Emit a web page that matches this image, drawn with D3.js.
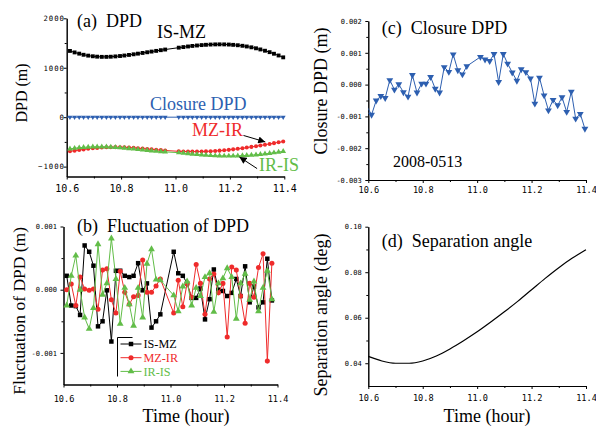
<!doctype html>
<html lang="en">
<head>
  <meta charset="utf-8" />
  <title>DPD 2008-0513</title>
  <script src="https://d3js.org/d3.v7.min.js"></script>
  <style>
    body { margin: 0; background: #fff; }
    text { font-family: "Liberation Serif", "Times New Roman", serif; }
    .tick text { font-family: "DejaVu Sans Mono", monospace; }
  </style>
</head>
<body>
<div id="chart"></div>
<script>
  // sample times (hour), one per minute, two samples missing just before 11.0
  const time = [10.612, 10.629, 10.646, 10.662, 10.679, 10.696, 10.712, 10.729, 10.746, 10.762,
    10.779, 10.796, 10.812, 10.829, 10.846, 10.862, 10.879, 10.896, 10.912, 10.929, 10.946, 10.962,
    11.012, 11.029, 11.046, 11.062, 11.079, 11.096, 11.112, 11.129, 11.146, 11.162, 11.179, 11.196,
    11.212, 11.229, 11.246, 11.262, 11.279, 11.296, 11.312, 11.329, 11.346, 11.362, 11.379, 11.396];

  // (a) DPD (m)
  const isMz = [1340, 1310, 1285, 1262, 1245, 1232, 1224, 1220, 1220, 1223, 1229, 1237, 1247, 1259,
    1272, 1285, 1299, 1313, 1327, 1341, 1355, 1368, 1406, 1418, 1430, 1441, 1450, 1458, 1464, 1469,
    1472, 1473, 1472, 1469, 1463, 1455, 1444, 1430, 1413, 1393, 1370, 1344, 1315, 1283, 1248, 1210];
  const mzIr = [-690, -678, -665, -652, -640, -630, -622, -615, -610, -607, -606, -607, -610, -614,
    -620, -627, -635, -643, -651, -659, -667, -674, -690, -693, -695, -696, -696, -695, -692, -688,
    -683, -677, -670, -661, -651, -640, -628, -615, -601, -587, -572, -557, -541, -525, -509, -493];
  const irIs = [-640, -628, -618, -610, -604, -600, -598, -598, -600, -604, -610, -617, -625, -634,
    -643, -652, -662, -671, -680, -688, -695, -702, -718, -727, -736, -745, -753, -761, -768, -774,
    -779, -782, -784, -785, -784, -782, -778, -773, -767, -760, -751, -741, -730, -718, -705, -690];

  // (c) closure DPD (m); first sample sits just left of 10.6
  const closureTime = [10.596, 10.612, 10.629, 10.646, 10.662, 10.679, 10.696, 10.712, 10.729, 10.746,
    10.762, 10.779, 10.796, 10.812, 10.829, 10.846, 10.862, 10.879, 10.896, 10.912, 10.929, 10.946,
    10.962, 11.012, 11.029, 11.046, 11.062, 11.079, 11.096, 11.112, 11.129, 11.146, 11.162, 11.179,
    11.196, 11.212, 11.229, 11.246, 11.262, 11.279, 11.296, 11.312, 11.329, 11.346, 11.362, 11.379, 11.396];
  const closure = [-0.0007, -0.00095, -0.0005, -0.00036, -0.00042, 0.00014, -0.00016, 0.00001, -0.00024,
    -0.00038, 0.0003, -0.00025, 0.00003, 0.00003, 0.00024, -0.00013, -0.00025, 0.00055, 0.0004, 0.00095,
    0.00045, 0.00032, 0.00058, 0.00087, 0.00079, 0.00074, 0.00096, 0.00008, 0.00096, 0.00066, 0.00038,
    0.00012, 0.00048, 0.00039, 0.00019, -0.0006, 0.00022, -0.00034, -0.00081, -0.00048, -0.00065,
    -0.0004, -0.00086, -0.00022, -0.00107, -0.00092, -0.00139];

  // (b) fluctuation of DPD (m), first 45 sample times
  const flucIsMz = [0.00022, -0.00025, -0.00026, -0.0004, 0.0007, 0.0006, 0.00038, -0.00058, -0.0005,
    -0.00001, -0.00082, 0.0003, 0.0003, 0.00022, 0.0002, 0.00022, 0.00042, -0.00001, 0.0001, -0.0006,
    -0.0005, -0.00039, 0.0006, 0.00026, 0.00022, 0.0001, -0.00013, -0.00013, 0.00002, -0.00047,
    -0.00015, 0.00032, 0.0, -0.00002, -0.0001, -0.00005, 0.00017, -0.0001, 0.00037, -0.0002, 0.00005,
    -0.00028, -0.0002, 0.00049, -0.00017];
  const flucMzIr = [0.0, 0.00009, -0.00025, 0.0002, 0.00001, -0.00001, 0.00001, -0.00031, 0.00031,
    0.00033, -0.00016, -0.00037, 0.00029, -0.00004, -0.00023, -0.00011, -0.00009, 0.00047, -0.00004,
    -0.00004, 0.00006, 0.00017, -0.00037, 0.00015, -0.00027, 0.0001, -0.00012, 0.0004, 0.0001, -0.00039,
    0.00017, 0.00025, -0.00005, 0.0001, -0.00075, 0.00036, 0.00031, -0.0001, -0.00053, 0.0001, -0.00012,
    0.00035, 0.00057, -0.00113, 0.00042];
  const flucIrIs = [-0.00025, 0.00022, 0.00054, 0.0, -0.00044, -0.00062, -0.00029, 0.00072, -0.00008,
    0.0001, 0.00081, 0.00017, -0.00054, 0.00003, -0.00023, -0.00057, 0.00003, -0.00044, 0.00041, 0.00064,
    0.00016, 0.00015, -0.00009, -0.00034, 0.00005, 0.00013, -0.00025, 0.00003, -0.0001, 0.0002, 0.00026,
    -0.00035, 0.0001, 0.00018, 0.00034, 0.0002, -0.00046, 0.0001, 0.00025, -0.00016, 0.00013, -0.00034,
    0.00003, 0.0003, -0.00015];

  // (d) separation angle (deg)
  const sepTime = [10.60, 10.65, 10.70, 10.75, 10.80, 10.85, 10.90, 10.95, 11.00, 11.05, 11.10, 11.15,
    11.20, 11.25, 11.30, 11.35, 11.40];
  const sepAngle = [0.0430, 0.0410, 0.0400, 0.0400, 0.0410, 0.0432, 0.0463, 0.0499, 0.0538, 0.0581,
    0.0626, 0.0673, 0.0723, 0.0773, 0.0820, 0.0862, 0.0899];

  // ticks
  const xMajor = [10.6, 10.8, 11.0, 11.2, 11.4];
  const xMinor = [10.7, 10.9, 11.1, 11.3];
  const yMajorA = [-1000, 0, 1000, 2000], yMinorA = [-500, 500, 1500];
  const yMajorB = [-0.001, 0, 0.001], yMinorB = [-0.0005, 0.0005];
  const yMajorC = [-0.003, -0.002, -0.001, 0, 0.001, 0.002];
  const yMinorC = [-0.0025, -0.0015, -0.0005, 0.0005, 0.0015];
  const yMajorD = [0.04, 0.06, 0.08, 0.10], yMinorD = [0.05, 0.07, 0.09];

  const black = "#000", red = "#ef2b2b", green = "#62bd48", blue = "#2d5fb0";

  const svg = d3.select("#chart").append("svg")
    .attr("width", 596)
    .attr("height", 427);

  const hyphen = f => d => f(d).replace("\u2212", "-");

  function addAxes(x, y, o) {
    const bottom = y.range()[0], left = x.range()[0];
    svg.append("g").attr("transform", `translate(0,${bottom})`)
      .call(d3.axisBottom(x).tickValues(xMinor).tickSize(2).tickSizeOuter(0).tickFormat(""));
    const xg = svg.append("g").attr("transform", `translate(0,${bottom})`)
      .call(d3.axisBottom(x).tickValues(xMajor).tickSize(3).tickSizeOuter(0).tickFormat(d3.format(".1f")));
    xg.selectAll("text").attr("dy", null).attr("y", o.xLabelY).style("font-size", o.xFont + "px");

    svg.append("g").attr("transform", `translate(${left},0)`)
      .call(d3.axisLeft(y).tickValues(o.yMinor).tickSize(2).tickSizeOuter(0).tickFormat(""));
    const yg = svg.append("g").attr("transform", `translate(${left},0)`)
      .call(d3.axisLeft(y).tickValues(o.yMajor).tickSize(3).tickSizeOuter(0)
        .tickPadding(o.yPad).tickFormat(o.yFormat));
    yg.selectAll("text").style("font-size", o.yFont + "px").attr("letter-spacing", o.yLs || 0);
  }

  let clipId = 0;
  function series(x, y, t, v, color, sym, size, flip) {
    const pts = t.map((d, i) => [d, v[i]]);
    const id = "clip" + (clipId++);
    svg.append("clipPath").attr("id", id).append("rect")
      .attr("x", x.range()[0]).attr("y", y.range()[1] - 10)
      .attr("width", x.range()[1] - x.range()[0] + 5).attr("height", y.range()[0] - y.range()[1] + 20);
    svg.append("path").datum(pts)
      .attr("clip-path", `url(#${id})`)
      .attr("fill", "none")
      .attr("stroke", color)
      .attr("stroke-width", 1)
      .attr("d", d3.line().x(d => x(d[0])).y(d => y(d[1])));
    svg.append("g").selectAll("path")
      .data(pts.filter(d => d[0] >= x.domain()[0]))
      .join("path")
      .attr("transform", d => `translate(${x(d[0])},${y(d[1])})` + (flip ? " rotate(180)" : ""))
      .attr("d", d3.symbol().type(sym).size(size))
      .attr("fill", color);
  }

  function label(txt, x, y, size, color, anchor, rotate) {
    return svg.append("text")
      .attr("transform", `translate(${x},${y})` + (rotate ? " rotate(-90)" : ""))
      .attr("text-anchor", anchor || "start")
      .attr("fill", color || black)
      .style("font-size", size + "px")
      .style("white-space", "pre")
      .text(txt);
  }

  // ---- (a) DPD
  const xa = d3.scaleLinear().domain([10.6, 11.4]).range([66.7, 284.3]);
  const ya = d3.scaleLinear().domain([-1200, 2000]).range([176.5, 18.3]);
  addAxes(xa, ya, { yMajor: yMajorA, yMinor: yMinorA, yFormat: d3.format("d"), yPad: -1.3,
    yFont: 7.3, yLs: 1, xFont: 10, xLabelY: 15.2 });
  series(xa, ya, time, isMz, black, d3.symbolSquare, 15);
  series(xa, ya, closureTime, closure, blue, d3.symbolTriangle, 10, true);
  series(xa, ya, time, mzIr, red, d3.symbolCircle, 13);
  series(xa, ya, time, irIs, green, d3.symbolTriangle, 14);

  label("(a)  DPD", 77, 27, 18);
  label("IS-MZ", 157, 38, 18);
  label("Closure DPD", 150, 110, 18, blue);
  label("MZ-IR", 192, 136, 18, red);
  label("IR-IS", 259, 170.5, 18, green);
  label("DPD (m)", 27, 93, 16, black, "middle", true);

  svg.append("defs").append("marker")
    .attr("id", "head").attr("viewBox", "0 0 10 10").attr("refX", 10).attr("refY", 5)
    .attr("markerWidth", 8).attr("markerHeight", 7).attr("markerUnits", "userSpaceOnUse")
    .attr("orient", "auto")
    .append("path").attr("d", "M0,0L10,5L0,10Z").attr("fill", black);
  const arrows = [[[11.25, -370], [11.33, -500]], [[11.30, -1040], [11.235, -805]]];
  svg.selectAll(null).data(arrows).join("line")
    .attr("x1", d => xa(d[0][0])).attr("y1", d => ya(d[0][1]))
    .attr("x2", d => xa(d[1][0])).attr("y2", d => ya(d[1][1]))
    .attr("stroke", black).attr("stroke-width", 1)
    .attr("marker-end", "url(#head)");

  // ---- (b) fluctuation
  const xb = d3.scaleLinear().domain([10.6, 11.4]).range([63.5, 277.5]);
  const yb = d3.scaleLinear().domain([-0.0015, 0.001]).range([384.5, 226.5]);
  addAxes(xb, yb, { yMajor: yMajorB, yMinor: yMinorB, yFormat: hyphen(d3.format(".3f")), yPad: 3.6,
    yFont: 7, xFont: 8.6, xLabelY: 17.8 });
  const tb = time.slice(0, flucIsMz.length);
  series(xb, yb, tb, flucIsMz, black, d3.symbolSquare, 20);
  series(xb, yb, tb, flucMzIr, red, d3.symbolCircle, 20);
  series(xb, yb, tb, flucIrIs, green, d3.symbolTriangle, 20);

  label("(b)  Fluctuation of DPD", 77, 231.7, 18);
  label("Fluctuation of DPD (m)", 25, 310.8, 17.5, black, "middle", true);
  label("Time (hour)", 186, 421.7, 18, black, "middle");

  // legend
  const legendRows = [["IS-MZ", black, d3.symbolSquare], ["MZ-IR", red, d3.symbolCircle],
    ["IR-IS", green, d3.symbolTriangle]];
  const lg = svg.append("g").attr("transform", "translate(117.5,337.5)");
  lg.append("path").attr("d", "M15,0H0V39").attr("fill", "none").attr("stroke", black);
  const row = lg.selectAll("g").data(legendRows).join("g")
    .attr("transform", (d, i) => `translate(0,${6.5 + i * 13.7})`);
  row.append("line").attr("x1", 3).attr("x2", 24).attr("stroke", d => d[1]);
  row.append("path").attr("transform", "translate(13.5,0)")
    .attr("d", d => d3.symbol().type(d[2]).size(20)()).attr("fill", d => d[1]);
  row.append("text").attr("x", 26).attr("dy", "0.35em")
    .attr("fill", d => d[1]).style("font-size", "12.2px").text(d => d[0]);

  // ---- (c) closure DPD
  const xc = d3.scaleLinear().domain([10.6, 11.4]).range([368.3, 586]);
  const yc = d3.scaleLinear().domain([-0.003, 0.002]).range([180, 21]);
  addAxes(xc, yc, { yMajor: yMajorC, yMinor: yMinorC, yFormat: hyphen(d3.format(".3f")), yPad: 3.6,
    yFont: 7, xFont: 8.6, xLabelY: 13 });
  series(xc, yc, closureTime, closure, blue, d3.symbolTriangle, 20, true);

  label("(c)  Closure DPD", 381.7, 34.3, 18);
  label("2008-0513", 393, 166.7, 16);
  label("Closure DPD (m)", 327, 91, 18, black, "middle", true);

  // ---- (d) separation angle
  const xd = d3.scaleLinear().domain([10.6, 11.4]).range([368.3, 586]);
  const yd = d3.scaleLinear().domain([0.03, 0.10]).range([386, 226.7]);
  addAxes(xd, yd, { yMajor: yMajorD, yMinor: yMinorD, yFormat: d3.format(".2f"), yPad: 3.6,
    yFont: 7, xFont: 8.6, xLabelY: 15 });
  svg.append("path")
    .datum(sepTime.map((d, i) => [d, sepAngle[i]]))
    .attr("fill", "none")
    .attr("stroke", black)
    .attr("stroke-width", 1.2)
    .attr("d", d3.line().curve(d3.curveMonotoneX).x(d => xd(d[0])).y(d => yd(d[1])));

  label("(d)  Separation angle", 381.7, 246.7, 18);
  label("Separation angle (deg)", 327, 315, 18, black, "middle", true);
  label("Time (hour)", 487, 421.7, 18, black, "middle");
</script>
</body>
</html>
